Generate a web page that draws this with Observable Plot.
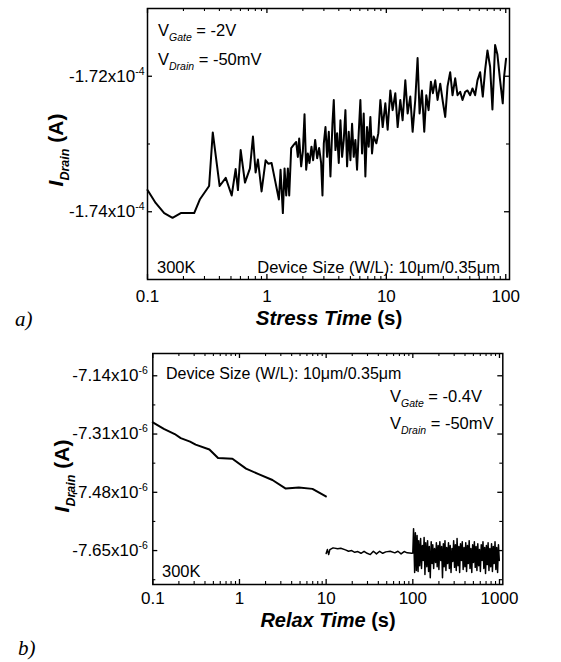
<!DOCTYPE html>
<html>
<head>
<meta charset="utf-8">
<script src="https://cdn.jsdelivr.net/npm/d3@7"></script>
<script src="https://cdn.jsdelivr.net/npm/@observablehq/plot@0.6"></script>
<style>
  body { margin: 0; background: #fff; }
  #page { position: relative; width: 561px; height: 662px; background: #fff; overflow: hidden; }
  #page svg { position: absolute; left: 0; overflow: visible; }
</style>
</head>
<body>
<div id="page"></div>
<script>
// ---- a) drain current during stress (time in s, current in A) ----
const stressTime = [
  0.1, 0.117, 0.138, 0.162, 0.19, 0.246, 0.274, 0.328, 0.352, 0.402,
  0.452, 0.507, 0.547, 0.572, 0.603, 0.655, 0.721, 0.764, 0.804, 0.841,
  0.902, 0.975, 1.026, 1.094, 1.159, 1.26, 1.301, 1.36, 1.405, 1.451,
  1.498, 1.537, 1.597, 1.681, 1.758, 1.816, 1.863, 1.936, 2.0, 2.065,
  2.132, 2.2, 2.273, 2.362, 2.439, 2.535, 2.634, 2.737, 2.844, 2.919,
  2.995, 3.093, 3.193, 3.298, 3.404, 3.538, 3.63, 3.748, 3.87, 3.997,
  4.127, 4.262, 4.4, 4.544, 4.692, 4.844, 5.003, 5.166, 5.333, 5.507,
  5.686, 5.871, 6.063, 6.262, 6.465, 6.675, 6.893, 7.118, 7.35, 7.589,
  7.837, 8.25, 8.575, 8.911, 9.321, 9.81, 10.26, 10.8, 11.29, 11.89,
  12.44, 13.09, 13.69, 14.42, 15.08, 15.87, 16.6, 17.47, 18.27, 18.99,
  19.87, 20.78, 21.6, 22.59, 23.62, 24.55, 25.68, 26.85, 28.27, 29.75,
  31.12, 32.54, 34.25, 35.83, 37.73, 39.46, 41.54, 43.44, 45.74, 47.83,
  50.35, 52.66, 55.42, 57.96, 61.01, 64.23, 67.17, 70.26, 73.96, 77.35,
  81.43, 85.17, 89.66, 94.39, 96.83, 100.6
];
const stressCurrent = [
  -173.68e-6, -173.87e-6, -174.02e-6, -174.09e-6, -174.02e-6, -174.02e-6, -173.82e-6, -173.62e-6, -172.83e-6, -173.62e-6,
  -173.50e-6, -173.76e-6, -173.37e-6, -173.68e-6, -173.09e-6, -173.57e-6, -173.36e-6, -172.89e-6, -173.42e-6, -173.23e-6,
  -173.70e-6, -173.24e-6, -173.29e-6, -173.28e-6, -173.50e-6, -173.82e-6, -173.38e-6, -174.02e-6, -173.36e-6, -173.76e-6,
  -173.36e-6, -173.76e-6, -173.06e-6, -173.01e-6, -172.97e-6, -173.19e-6, -172.92e-6, -173.33e-6, -173.11e-6, -172.56e-6,
  -173.38e-6, -173.14e-6, -173.28e-6, -173.04e-6, -173.24e-6, -172.94e-6, -173.21e-6, -173.06e-6, -173.28e-6, -173.76e-6,
  -172.99e-6, -172.75e-6, -173.19e-6, -172.82e-6, -173.48e-6, -172.70e-6, -172.35e-6, -173.09e-6, -172.84e-6, -173.28e-6,
  -172.65e-6, -173.19e-6, -172.94e-6, -172.50e-6, -173.33e-6, -172.82e-6, -173.24e-6, -172.70e-6, -173.19e-6, -172.94e-6,
  -173.38e-6, -172.84e-6, -172.35e-6, -173.14e-6, -172.55e-6, -173.48e-6, -172.75e-6, -173.04e-6, -172.60e-6, -173.14e-6,
  -172.89e-6, -172.99e-6, -172.84e-6, -172.35e-6, -172.75e-6, -172.40e-6, -172.79e-6, -172.21e-6, -172.50e-6, -172.25e-6,
  -172.75e-6, -172.35e-6, -172.65e-6, -172.06e-6, -172.55e-6, -172.30e-6, -172.82e-6, -172.35e-6, -171.73e-6, -172.55e-6,
  -172.21e-6, -172.82e-6, -172.28e-6, -172.50e-6, -172.08e-6, -172.25e-6, -172.06e-6, -172.35e-6, -172.11e-6, -172.38e-6,
  -172.60e-6, -172.15e-6, -171.94e-6, -172.28e-6, -172.03e-6, -172.28e-6, -172.23e-6, -172.35e-6, -172.23e-6, -172.21e-6,
  -172.28e-6, -172.18e-6, -172.28e-6, -172.06e-6, -171.94e-6, -172.30e-6, -171.91e-6, -171.62e-6, -171.86e-6, -172.49e-6,
  -171.54e-6, -171.68e-6, -172.06e-6, -172.40e-6, -172.01e-6, -171.74e-6
];

// ---- b) drain current during relaxation ----
// first 10 s (slow recovery trace)
const relaxTimeEarly = [0.1, 0.134, 0.179, 0.21, 0.269, 0.312, 0.45, 0.566, 0.829, 1.19, 1.66, 2.4, 3.42, 4.84, 6.95, 9.93];
const relaxCurrentEarly = [
  -7.276e-6, -7.295e-6, -7.310e-6, -7.322e-6, -7.332e-6, -7.341e-6, -7.355e-6, -7.380e-6,
  -7.382e-6, -7.411e-6, -7.427e-6, -7.444e-6, -7.469e-6, -7.466e-6, -7.470e-6, -7.492e-6
];
// 10 s to 1000 s (second acquisition)
const relaxTimeLate = [
  10, 10.35, 10.69, 11.04, 12.01, 13.59, 14.75, 16.7, 18.12, 19.71,
  21.38, 23.21, 25.25, 27.39, 29.72, 32.33, 35.09, 38.07, 41.42, 44.95,
  48.77, 54.8, 62.0, 67.3, 73.2, 79.4, 86.2, 97.5,
  100, 102, 105, 107, 110, 112, 115, 117, 120, 123, 126, 129, 132, 135, 138, 141, 145, 148, 152, 155,
  159, 163, 167, 170, 174, 178, 183, 187, 191, 196, 200, 205, 210, 215, 220, 225, 230, 235, 241, 246,
  252, 258, 264, 270, 276, 283, 289, 296, 303, 310, 317, 324, 332, 340, 347, 355, 364, 372, 381, 390,
  399, 408, 417, 427, 437, 447, 457, 468, 479, 490, 501, 513, 525, 537, 549, 562, 575, 588, 602, 616,
  630, 645, 660, 675, 690, 706, 723, 739, 756, 774, 792, 810, 829, 848, 868, 888, 908, 929, 951, 973, 995
];
const relaxCurrentLate = [
  -7.6587e-6, -7.6471e-6, -7.6617e-6, -7.6471e-6, -7.6421e-6, -7.6450e-6, -7.6433e-6, -7.6480e-6, -7.6520e-6, -7.6500e-6,
  -7.6550e-6, -7.6529e-6, -7.6579e-6, -7.6520e-6, -7.6579e-6, -7.6617e-6, -7.6520e-6, -7.6596e-6, -7.6520e-6, -7.6579e-6,
  -7.6538e-6, -7.6520e-6, -7.6567e-6, -7.6520e-6, -7.6596e-6, -7.6529e-6, -7.6567e-6, -7.6579e-6,
  -7.657e-6, -7.586e-6, -7.714e-6, -7.598e-6, -7.708e-6, -7.606e-6, -7.711e-6, -7.621e-6, -7.694e-6, -7.615e-6,
  -7.702e-6, -7.635e-6, -7.679e-6, -7.612e-6, -7.720e-6, -7.627e-6, -7.697e-6, -7.621e-6, -7.711e-6, -7.638e-6,
  -7.729e-6, -7.624e-6, -7.688e-6, -7.633e-6, -7.702e-6, -7.644e-6, -7.685e-6, -7.627e-6, -7.697e-6, -7.635e-6,
  -7.705e-6, -7.624e-6, -7.679e-6, -7.638e-6, -7.729e-6, -7.630e-6, -7.697e-6, -7.621e-6, -7.708e-6, -7.641e-6,
  -7.688e-6, -7.627e-6, -7.702e-6, -7.635e-6, -7.714e-6, -7.644e-6, -7.682e-6, -7.621e-6, -7.699e-6, -7.633e-6,
  -7.708e-6, -7.615e-6, -7.694e-6, -7.638e-6, -7.714e-6, -7.630e-6, -7.679e-6, -7.624e-6, -7.705e-6, -7.641e-6,
  -7.697e-6, -7.627e-6, -7.711e-6, -7.635e-6, -7.688e-6, -7.621e-6, -7.702e-6, -7.644e-6, -7.714e-6, -7.633e-6,
  -7.685e-6, -7.624e-6, -7.699e-6, -7.638e-6, -7.708e-6, -7.630e-6, -7.694e-6, -7.647e-6, -7.711e-6, -7.633e-6,
  -7.679e-6, -7.624e-6, -7.702e-6, -7.641e-6, -7.717e-6, -7.635e-6, -7.691e-6, -7.627e-6, -7.708e-6, -7.644e-6,
  -7.697e-6, -7.630e-6, -7.711e-6, -7.638e-6, -7.688e-6, -7.624e-6, -7.705e-6, -7.641e-6, -7.714e-6, -7.633e-6, -7.679e-6
];

// ---- axis ticks ----
const stressXTicks = [0.1, 1, 10, 100];
const stressYTicks = [-1.72e-4, -1.74e-4];
const stressYMinor = [-1.73e-4];
const relaxXTicks = [0.1, 1, 10, 100, 1000];
const relaxYTicks = [-7.14e-6, -7.31e-6, -7.48e-6, -7.65e-6];
const relaxYMinor = [-7.225e-6, -7.395e-6, -7.565e-6, -7.735e-6];

// minor log ticks (2..9 within each decade)
function minorLog(decades) {
  const out = [];
  for (const d of decades) for (let k = 2; k <= 9; k++) out.push(+(k * d).toPrecision(3));
  return out;
}

const FONT = '"Liberation Sans", Arial, sans-serif';
const SERIF = '"Liberation Serif", "Times New Roman", serif';
const page = document.getElementById("page");

// text built from styled pieces (sub/superscripts, mixed weights)
function addText(svg, o) {
  const t = d3.select(svg).append("text")
    .attr("transform", `translate(${o.x},${o.y})` + (o.rotate ? ` rotate(${o.rotate})` : ""))
    .attr("text-anchor", o.anchor || "start")
    .attr("font-family", o.family || FONT)
    .attr("fill", "#000")
    .style("white-space", "pre");
  for (const p of o.parts) {
    t.append("tspan").text(p.text)
      .attr("font-size", p.size)
      .attr("font-weight", p.bold ? "bold" : null)
      .attr("font-style", p.italic ? "italic" : null)
      .attr("dy", p.dy || null);
  }
}

// tick labels like "-1.72x10^-4" get a raised exponent
function raiseExponents(svg) {
  d3.select(svg).selectAll("text").each(function () {
    const s = this.textContent;
    if (!s.includes("^")) return;
    const [base, exp] = s.split("^");
    const t = d3.select(this).text(null);
    t.append("tspan").text(base);
    t.append("tspan").attr("font-size", 10.5).attr("dy", -7).text(exp);
  });
}

function sciLabel(exp) {
  return d => (d / Math.pow(10, exp)).toFixed(2) + "x10^" + exp;
}

function panel({width, height, margin, xDomain, yDomain, xTicks, xMinor, yTicks, yMinor, yExp, xPad, yPad, lines}) {
  const innerW = width - margin.left - margin.right;
  const innerH = height - margin.top - margin.bottom;
  const major = 5, minor = 3;
  return Plot.plot({
    width, height,
    marginLeft: margin.left, marginRight: margin.right,
    marginTop: margin.top, marginBottom: margin.bottom,
    style: {fontFamily: FONT, fontSize: "17px", color: "#000", background: "transparent", overflow: "visible"},
    x: {type: "log", domain: xDomain, ticks: xTicks, tickFormat: d => String(d), tickSize: 0, tickPadding: xPad, label: null},
    y: {domain: yDomain, ticks: yTicks, tickFormat: sciLabel(yExp), tickSize: 0, tickPadding: yPad, label: null},
    marks: [
      // inward ticks on all four sides
      Plot.tickX(xTicks, {x: d => d, insetTop: innerH - major, strokeWidth: 1.3}),
      Plot.tickX(xTicks, {x: d => d, insetBottom: innerH - major, strokeWidth: 1.3}),
      Plot.tickX(xMinor, {x: d => d, insetTop: innerH - minor, strokeWidth: 1.1}),
      Plot.tickX(xMinor, {x: d => d, insetBottom: innerH - minor, strokeWidth: 1.1}),
      Plot.tickY(yTicks, {y: d => d, insetRight: innerW - major, strokeWidth: 1.3}),
      Plot.tickY(yTicks, {y: d => d, insetLeft: innerW - major, strokeWidth: 1.3}),
      Plot.tickY(yMinor, {y: d => d, insetRight: innerW - minor, strokeWidth: 1.1}),
      Plot.tickY(yMinor, {y: d => d, insetLeft: innerW - minor, strokeWidth: 1.1}),
      ...lines.map(l => Plot.line(l.t.map((t, i) => ({t, i: l.v[i]})), {
        x: "t", y: "i", stroke: "#000", strokeWidth: l.w, strokeLinejoin: "round"
      })),
      Plot.frame({stroke: "#000", strokeWidth: 1.5})
    ]
  });
}

// ---- panel a ----
const svgA = panel({
  width: 561, height: 335,
  margin: {top: 8, right: 52, bottom: 56, left: 147},
  xDomain: [0.1, 107.5], yDomain: [-175e-6, -171e-6],
  xTicks: stressXTicks, xMinor: minorLog([0.1, 1, 10]),
  yTicks: stressYTicks, yMinor: stressYMinor, yExp: -4, xPad: 10, yPad: 3,
  lines: [{t: stressTime, v: stressCurrent, w: 2}]
});
svgA.style.top = "0px";
page.appendChild(svgA);
raiseExponents(svgA);

addText(svgA, {x: 158, y: 36, parts: [
  {text: "V", size: 16.5}, {text: "Gate", size: 10.5, italic: true, dy: 5}, {text: " = -2V", size: 16.5, dy: -5}]});
addText(svgA, {x: 158, y: 65, parts: [
  {text: "V", size: 16.5}, {text: "Drain", size: 10.5, italic: true, dy: 5}, {text: " = -50mV", size: 16.5, dy: -5}]});
addText(svgA, {x: 157, y: 273, parts: [{text: "300K", size: 16.5}]});
addText(svgA, {x: 500, y: 273, anchor: "end", parts: [{text: "Device Size (W/L): 10μm/0.35μm", size: 16.5}]});
addText(svgA, {x: 329, y: 325, anchor: "middle", parts: [
  {text: "Stress Time", size: 20.5, bold: true, italic: true}, {text: " (s)", size: 20.5, bold: true}]});
addText(svgA, {x: 63, y: 150, rotate: -90, anchor: "middle", parts: [
  {text: "I", size: 21, bold: true, italic: true}, {text: "Drain", size: 12.5, bold: true, italic: true, dy: 6},
  {text: " (A)", size: 21, bold: true, dy: -6}]});
addText(svgA, {x: 15, y: 326, family: SERIF, parts: [{text: "a)", size: 21, italic: true}]});

// ---- panel b ----
const svgB = panel({
  width: 561, height: 327,
  margin: {top: 18, right: 58.7, bottom: 78, left: 152.3},
  xDomain: [0.1, 1092], yDomain: [-7.749e-6, -7.075e-6],
  xTicks: relaxXTicks, xMinor: minorLog([0.1, 1, 10, 100]),
  yTicks: relaxYTicks, yMinor: relaxYMinor, yExp: -6, xPad: 7, yPad: 5,
  lines: [
    {t: relaxTimeEarly, v: relaxCurrentEarly, w: 2},
    {t: relaxTimeLate, v: relaxCurrentLate, w: 1.5}
  ]
});
svgB.style.top = "335px";
page.appendChild(svgB);
raiseExponents(svgB);

addText(svgB, {x: 166, y: 44, parts: [{text: "Device Size (W/L): 10μm/0.35μm", size: 16}]});
addText(svgB, {x: 390, y: 67, parts: [
  {text: "V", size: 16.5}, {text: "Gate", size: 10.5, italic: true, dy: 5}, {text: " = -0.4V", size: 16.5, dy: -5}]});
addText(svgB, {x: 390, y: 94, parts: [
  {text: "V", size: 16.5}, {text: "Drain", size: 10.5, italic: true, dy: 5}, {text: " = -50mV", size: 16.5, dy: -5}]});
addText(svgB, {x: 162, y: 242, parts: [{text: "300K", size: 16.5}]});
addText(svgB, {x: 328, y: 292, anchor: "middle", parts: [
  {text: "Relax Time", size: 20, bold: true, italic: true}, {text: " (s)", size: 20, bold: true}]});
addText(svgB, {x: 69, y: 141, rotate: -90, anchor: "middle", parts: [
  {text: "I", size: 21, bold: true, italic: true}, {text: "Drain", size: 12.5, bold: true, italic: true, dy: 6},
  {text: " (A)", size: 21, bold: true, dy: -6}]});
addText(svgB, {x: 18, y: 320, family: SERIF, parts: [{text: "b)", size: 21, italic: true}]});
</script>
</body>
</html>
